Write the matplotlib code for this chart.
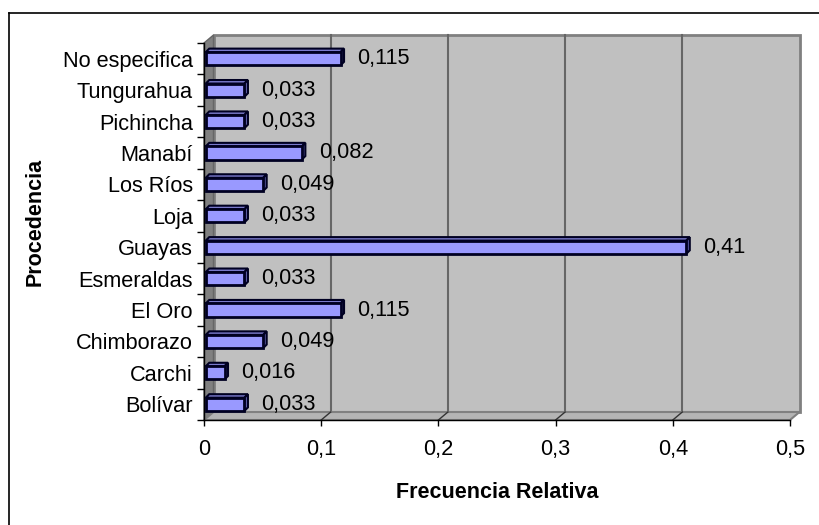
import matplotlib.pyplot as plt
from matplotlib.patches import Polygon, Rectangle
from matplotlib.lines import Line2D
import numpy as np

plt.rcParams['font.family'] = ['Liberation Sans', 'DejaVu Sans']

# datos
provincias = ['Bolívar', 'Carchi', 'Chimborazo', 'El Oro', 'Esmeraldas', 'Guayas',
              'Loja', 'Los Ríos', 'Manabí', 'Pichincha', 'Tungurahua', 'No especifica']
frecuencia = [0.033, 0.016, 0.049, 0.115, 0.033, 0.41,
              0.033, 0.049, 0.082, 0.033, 0.033, 0.115]
etiquetas = ['0,033', '0,016', '0,049', '0,115', '0,033', '0,41',
             '0,033', '0,049', '0,082', '0,033', '0,033', '0,115']
xticks = [0, 0.1, 0.2, 0.3, 0.4, 0.5]
xticklabels = ['0', '0,1', '0,2', '0,3', '0,4', '0,5']

W, H = 819, 525
fig = plt.figure(figsize=(W / 100, H / 100), dpi=100)
ax = fig.add_axes([204 / W, 1 - 420 / H, (790 - 204) / W, (420 - 43) / H])
n = len(provincias)
ax.set_xlim(0, 0.5)
ax.set_ylim(-0.5, n - 0.5)
ax.patch.set_visible(False)
for s in ax.spines.values():
    s.set_visible(False)

# profundidad de la pared (en unidades de datos)
DX = 9.5 / (586 / 0.5)
DY = 8 / ((420 - 43) / n)
y0, y1 = -0.5, n - 0.5

wall = '#C0C0C0'
edge = '#808080'
# pared del fondo
ax.add_patch(Rectangle((DX, y0 + DY), 0.5, n, facecolor=wall, edgecolor=edge,
                       lw=2, clip_on=False, zorder=0))
# pared izquierda
ax.add_patch(Polygon([(0, y0), (0, y1), (DX, y1 + DY), (DX, y0 + DY)],
                     facecolor='#808080', edgecolor='#666666', lw=1, clip_on=False, zorder=1))
# piso
ax.add_patch(Polygon([(0, y0), (0.5, y0), (0.5 + DX, y0 + DY), (DX, y0 + DY)],
                     facecolor='#B4B4B4', edgecolor='#808080', lw=1.5, clip_on=False, zorder=1))
# lineas de division
for xv in xticks[1:-1]:
    ax.plot([xv + DX, xv + DX], [y0 + DY, y1 + DY], color='#666666', lw=1.5, zorder=0.5,
            clip_on=False)
    ax.plot([xv, xv + DX], [y0, y0 + DY], color='#333333', lw=1, zorder=1.5, clip_on=False)
# ejes frontales
ax.plot([0, 0], [y0, y1], color='black', lw=1, clip_on=False, zorder=2)
ax.plot([0, 0.5], [y0, y0], color='black', lw=1, clip_on=False, zorder=2)

# barras 3D
h = 0.42
bdx = 3.5 / (586 / 0.5)
bdy = 3.5 / ((420 - 43) / n)
y = np.arange(n)
ax.barh(y, frecuencia, height=h, left=0.0015, color='#9999FF', edgecolor='#000022',
        lw=2, zorder=4)
for yi, v in zip(y, frecuencia):
    top = [(0.0015, yi + h / 2), (v + 0.0015, yi + h / 2),
           (v + 0.0015 + bdx, yi + h / 2 + bdy), (0.0015 + bdx, yi + h / 2 + bdy)]
    side = [(v + 0.0015, yi - h / 2), (v + 0.0015 + bdx, yi - h / 2 + bdy),
            (v + 0.0015 + bdx, yi + h / 2 + bdy), (v + 0.0015, yi + h / 2)]
    ax.add_patch(Polygon(top, facecolor='#7A7ACC', edgecolor='#000022', lw=1.5, zorder=3.5))
    ax.add_patch(Polygon(side, facecolor='#6666B3', edgecolor='#000022', lw=1.5, zorder=3.5))

for yi, v, t in zip(y, frecuencia, etiquetas):
    ax.text(v + 0.016, yi, t, ha='left', va='center', fontsize=15.7, zorder=5)

# ticks
ax.set_yticks(y)
ax.set_yticklabels(provincias, fontsize=15.7)
ax.set_yticks(np.arange(n + 1) - 0.5, minor=True)
ax.tick_params(axis='y', which='major', length=0, pad=8)
ax.tick_params(axis='y', which='minor', length=5, width=1, color='black', direction='out')
ax.set_xticks(xticks)
ax.set_xticklabels(xticklabels, fontsize=15.7)
ax.tick_params(axis='x', length=4, width=1, pad=10)

fig.text(497 / W, 1 - 492 / H, 'Frecuencia Relativa', ha='center', va='center',
         fontsize=15.5, fontweight='bold')
fig.text(35 / W, 1 - 222 / H, 'Procedencia', ha='center', va='center',
         fontsize=15.5, fontweight='bold', rotation=90)

# borde del grafico
fig.add_artist(Line2D([9 / W, 9 / W], [0, 1 - 13 / H], color='black', lw=1.2))
fig.add_artist(Line2D([9 / W, 1], [1 - 13 / H, 1 - 13 / H], color='black', lw=1.2))

fig.savefig('out.png', dpi=100)
